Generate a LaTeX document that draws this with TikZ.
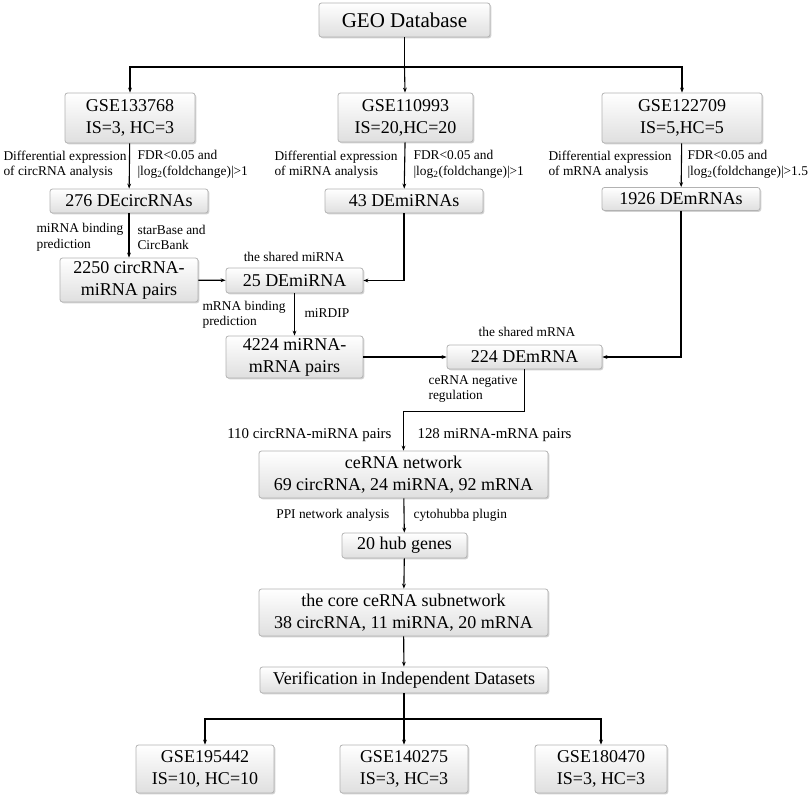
\documentclass[tikz,border=0pt]{standalone}
\usepackage{fontspec}
\setmainfont{Liberation Serif}
\usetikzlibrary{arrows.meta,shadows}

\begin{document}
\begin{tikzpicture}[
			x = 1pt, y = -1pt,
			line width = 1.1pt,
			box/.style = {draw=gray!60, line width=0.8pt, rounded corners=2.5pt,
				top color=white, bottom color=gray!25,
				drop shadow={shadow xshift=1.3pt, shadow yshift=-1.3pt, fill=gray!70},
				inner sep=0pt, align=center, font=\fontsize{18}{22}\selectfont},
			lbl/.style = {inner sep=0pt, align=left, font=\fontsize{13.4}{15.5}\selectfont},
			arr/.style = {-{Stealth[length=5pt,width=3.8pt]}}
			]

			\useasboundingbox (0,0) rectangle (809,797);

			% datasets
			\node[box, font=\fontsize{21}{24}\selectfont, minimum width=171, minimum height=34] (geo) at (404.5,20) {GEO Database};
			\node[box, minimum width=130, minimum height=50] (gseA) at (130,118) {GSE133768\\IS=3, HC=3};
			\node[box, minimum width=135, minimum height=49] (gseB) at (405.5,117.5) {GSE110993\\IS=20,HC=20};
			\node[box, minimum width=160, minimum height=50] (gseC) at (682,118) {GSE122709\\IS=5,HC=5};

			% differential expression
			\node[box, minimum width=158, minimum height=24] (deA) at (129,201) {276 DEcircRNAs};
			\node[box, minimum width=158, minimum height=24] (deB) at (404,201) {43 DEmiRNAs};
			\node[box, minimum width=158, minimum height=23] (deC) at (681,199) {1926 DEmRNAs};

			% pairs and shared
			\node[box, minimum width=138, minimum height=44] (pairA) at (129,280) {2250 circRNA-\\miRNA pairs};
			\node[box, minimum width=137, minimum height=25] (shmi) at (294.5,280.5) {25 DEmiRNA};
			\node[box, minimum width=137, minimum height=42] (pairB) at (294.5,357) {4224 miRNA-\\mRNA pairs};
			\node[box, minimum width=155, minimum height=24] (shm) at (524.5,357) {224 DEmRNA};

			% network
			\node[box, minimum width=289, minimum height=47] (net) at (403.5,474.5) {ceRNA network\\69 circRNA, 24 miRNA, 92 mRNA};
			\node[box, minimum width=125, minimum height=25] (hub) at (404.5,545.5) {20 hub genes};
			\node[box, minimum width=289, minimum height=47] (core) at (403.5,612.5) {the core ceRNA subnetwork\\38 circRNA, 11 miRNA, 20 mRNA};
			\node[box, minimum width=288, minimum height=26] (ver) at (404,680) {Verification in Independent Datasets};

			% validation
			\node[box, minimum width=138, minimum height=48] (gseD) at (205,769) {GSE195442\\IS=10, HC=10};
			\node[box, minimum width=128, minimum height=48] (gseE) at (404,769) {GSE140275\\IS=3, HC=3};
			\node[box, minimum width=132, minimum height=48] (gseF) at (601,769) {GSE180470\\IS=3, HC=3};

			% labels
			\node[lbl, anchor=east] (dA1) at (127,164.5) {Differential expression\\of circRNA analysis};
			\node[lbl, anchor=west] (dA2) at (137,164.5) {FDR<0.05 and\\|log\textsubscript{2}(foldchange)|>1};
			\node[lbl, anchor=east] (dB1) at (398,164.5) {Differential expression\\of miRNA analysis};
			\node[lbl, anchor=west] (dB2) at (413,164.5) {FDR<0.05 and\\|log\textsubscript{2}(foldchange)|>1};
			\node[lbl, anchor=east] (dC1) at (672,164.5) {Differential expression\\of mRNA analysis};
			\node[lbl, anchor=west] (dC2) at (687,164.5) {FDR<0.05 and\\|log\textsubscript{2}(foldchange)|>1.5};
			\node[lbl, anchor=west] (bA1) at (36,237.5) {miRNA binding\\prediction};
			\node[lbl, anchor=west] (bA2) at (137,237.5) {starBase and\\CircBank};
			\node[lbl] (sh1) at (294,257) {the shared miRNA};
			\node[lbl, anchor=west] (bB1) at (202,315) {mRNA binding\\prediction};
			\node[lbl, anchor=west] (bB2) at (304,313) {miRDIP};
			\node[lbl] (sh2) at (527,332) {the shared mRNA};
			\node[lbl, anchor=west] (neg) at (428,389) {ceRNA negative\\regulation};
			\node[lbl, font=\fontsize{14.9}{17}\selectfont, anchor=east] (pA) at (392,435) {110 circRNA-miRNA pairs};
			\node[lbl, font=\fontsize{14.9}{17}\selectfont, anchor=west] (pB) at (417,435) {128 miRNA-mRNA pairs};
			\node[lbl, anchor=east] (ppi) at (390,515) {PPI network analysis};
			\node[lbl, anchor=west] (cyto) at (413,515) {cytohubba plugin};

			% connectors
			\coordinate (top) at (404.5,67);
			\coordinate (bottom) at (404,719);
			\draw (geo) -- (top);
			\draw[arr] (top) -- (gseB);
			\draw[arr] (top) -| (gseA);
			\draw[arr] (top) -| (gseC);
			\draw[arr] (gseA) -- (deA);
			\draw[arr] (gseB) -- (deB);
			\draw[arr] (gseC) -- (deC);
			\draw[arr] (deA) -- (pairA);
			\draw[arr] (pairA) -- (shmi);
			\draw[arr] (deB) |- (shmi);
			\draw[arr] (shmi) -- (pairB);
			\draw[arr] (pairB) -- (shm);
			\draw[arr] (deC) |- (shm);
			\draw[arr] (shm.south) -- ++(0,42) -| (net);
			\draw[arr] (net) -- (hub);
			\draw[arr] (hub) -- (core);
			\draw[arr] (core) -- (ver);
			\draw (ver) -- (bottom);
			\draw[arr] (bottom) -- (gseE);
			\draw[arr] (bottom) -| (gseD);
			\draw[arr] (bottom) -| (gseF);

		\end{tikzpicture}
\end{document}
